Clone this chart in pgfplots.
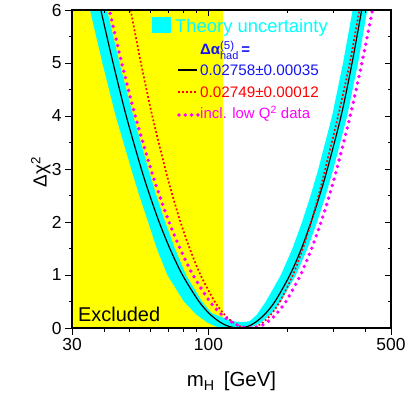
\documentclass[border=0pt]{standalone}
\usepackage{fontspec}
\setmainfont{Liberation Sans}
\usepackage{pgfplots}
\pgfplotsset{compat=1.18}
\definecolor{legblue}{RGB}{20,20,240}
\definecolor{bandcyan}{RGB}{0,255,255}
\definecolor{exyellow}{RGB}{255,255,0}
\definecolor{dotmag}{RGB}{255,0,255}
\definecolor{dotred}{RGB}{255,0,0}
\begin{document}
\begin{tikzpicture}
\useasboundingbox (-72bp,-69bp) rectangle (335bp,328bp);
\begin{axis}[
  scale only axis, width=319bp, height=318bp,
  at={(0,0)}, anchor=south west,
  xmode=log, xmin=30, xmax=500, ymin=0, ymax=6,
  xtick={30,100,500}, xticklabels={30,100,500},
  minor xtick={40,50,60,70,80,90,200,300,400},
  ytick={0,1,2,3,4,5,6}, yticklabels={0,1,2,3,4,5,6},
  minor ytick={0.5,1.5,2.5,3.5,4.5,5.5},
  tick align=outside, xtick pos=left, ytick pos=left,
  major tick length=7bp, minor tick length=3.5bp,
  axis on top,
  axis line style={line width=1.3bp},
  every tick/.style={black, line width=0.9bp},
  tick label style={font=\fontsize{17.5}{20}\selectfont},
  xlabel={m\textsubscript{H}\hspace{0.45em}[GeV]},
  xlabel style={at={(axis description cs:0.5,-0.1855)}, anchor=base, font=\fontsize{20.5}{22}\selectfont},
  clip=true,
]
% excluded region
\addplot[fill=exyellow, draw=none] coordinates {(30,0) (114,0) (114,6) (30,6)} -- cycle;
% theory uncertainty band
\addplot[fill=bandcyan, draw=none] coordinates {
(34.23,6.3)(35.15,6)(39.23,5)(44.10,4)(50.59,3)(54.30,2.5)(58.70,2)(63.35,1.5)(69.58,1)(80.46,0.5)(89.96,0.25)(99.16,0.1)(106.44,0.03)(115.27,0)(137.62,0)(148.76,0.03)(158.70,0.1)(172.48,0.25)(189.45,0.5)(216.18,1)(239.37,1.5)(260.60,2)(280.97,2.5)(300.80,3)(339.60,4)(374.0,5)(405.4,6)(416.3,6.3)
(366.2,6.3)(356.5,6)(327.5,5)(297.35,4)(263.38,3)(246.04,2.5)(228.17,2)(209.58,1.5)(189.29,1)(165.89,0.5)(153.04,0.25)(143.84,0.13)(135.20,0.11)(127.07,0.12)(117.34,0.17)(102.74,0.28)(94.36,0.5)(81.97,1)(74.30,1.5)(68.24,2)(63.13,2.5)(58.81,3)(51.49,4)(45.61,5)(40.87,6)(39.62,6.3)
} -- cycle;
% central fit
\addplot[black, line width=1.2bp, smooth] coordinates {
(37.6,6.3)(38.7,6)(43.1,5)(48.4,4)(55.3,3)(59.6,2.5)(64.7,2)(71.1,1.5)(79.5,1)(91.9,0.5)(101.8,0.25)(111.6,0.1)(119.7,0.03)(130.5,0)(141.1,0.03)(150.5,0.1)(163.6,0.25)(179.7,0.5)(205.0,1)(227.0,1.5)(247.1,2)(266.4,2.5)(285.2,3)(322.0,4)(354.7,5)(386.1,6)(396.5,6.3)
};
% alternative alpha_had
\addplot[dotred, line width=1.7bp, dash pattern=on 1.8bp off 2.2bp, smooth] coordinates {
(49.0,6.3)(50.3,6)(55.1,5)(60.9,4)(68.3,3)(72.8,2.5)(78.1,2)(84.7,1.5)(93.2,1)(105.6,0.5)(115.3,0.25)(124.6,0.1)(132.5,0.03)(142.6,0)(152.5,0.03)(161.3,0.1)(173.3,0.25)(187.8,0.5)(210.5,1)(229.8,1.5)(247.3,2)(264.1,2.5)(280.0,3)(313.6,4)(347.5,5)(378.4,6)(387.9,6.3)
};
% incl. low Q^2 data
\addplot[dotmag, line width=3.8bp, line cap=round, dash pattern=on 0bp off 6.6bp, smooth] coordinates {
(40.4,6.3)(41.7,6)(46.5,5)(52.4,4)(60.1,3)(64.9,2.5)(70.6,2)(77.8,1.5)(87.2,1)(101.2,0.5)(112.5,0.25)(123.5,0.1)(132.9,0.03)(145.1,0)(156.6,0.03)(166.7,0.1)(180.7,0.25)(197.9,0.5)(225.0,1)(248.2,1.5)(269.8,2)(290.3,2.5)(310.0,3)(348.8,4)(386.8,5)(424.5,6)(435.9,6.3)
};
\end{axis}
% mirrored ticks (inside) on top and right
\begin{axis}[
  scale only axis, width=319bp, height=318bp,
  at={(0,0)}, anchor=south west,
  xmode=log, xmin=30, xmax=500, ymin=0, ymax=6,
  xtick={100}, xticklabels={},
  minor xtick={40,50,60,70,80,90,200,300,400},
  ytick={0,1,2,3,4,5,6}, yticklabels={},
  minor ytick={0.5,1.5,2.5,3.5,4.5,5.5},
  tick align=inside, xtick pos=right, ytick pos=right,
  major tick length=6bp, minor tick length=3.5bp,
  axis line style={line width=1.3bp},
  every tick/.style={black, line width=0.9bp},
]
\addplot[draw=none] coordinates {(100,3)};
\end{axis}
% y label (rotated)
\node[rotate=90, anchor=base, inner sep=0pt, font=\fontsize{19}{22}\selectfont] at (-25.3bp,156bp) {Δχ\textsuperscript{2}};
% legend
\fill[bandcyan] (79.7bp,294.7bp) rectangle (98.7bp,311.3bp);
\node[anchor=base west, inner sep=0pt, text=bandcyan, font=\fontsize{18.5}{20}\selectfont] at (103bp,295.7bp) {Theory uncertainty};
\node[anchor=base west, inner sep=0pt, text=legblue] at (128bp,273bp) {{\fontsize{15}{16}\selectfont\bfseries Δα}\rlap{\raisebox{5.5bp}{\fontsize{11.5}{12}\selectfont (5)}}\raisebox{-5bp}{\fontsize{11}{12}\selectfont had}\hspace{3bp}{\fontsize{15}{16}\selectfont\bfseries =}};
\draw[black, line width=1.3bp] (106bp,258bp) -- (125bp,258bp);
\node[anchor=base west, inner sep=0pt, text=legblue, font=\fontsize{15.3}{16}\selectfont] at (128bp,252.3bp) {0.02758±0.00035};
\draw[dotred, line width=1.7bp, dash pattern=on 1.8bp off 2.2bp] (106bp,235.7bp) -- (125bp,235.7bp);
\node[anchor=base west, inner sep=0pt, text=dotred, font=\fontsize{15.3}{16}\selectfont] at (128bp,230.5bp) {0.02749±0.00012};
\draw[dotmag, line width=3.8bp, line cap=round, dash pattern=on 0bp off 6.3bp] (107bp,213bp) -- (126bp,213bp);
\node[anchor=base west, inner sep=0pt, text=dotmag, font=\fontsize{15}{16}\selectfont] at (128bp,209bp) {incl. low Q\textsuperscript{2} data};
\node[anchor=base west, inner sep=0pt, font=\fontsize{20}{22}\selectfont] at (6bp,7bp) {Excluded};
\end{tikzpicture}
\end{document}
